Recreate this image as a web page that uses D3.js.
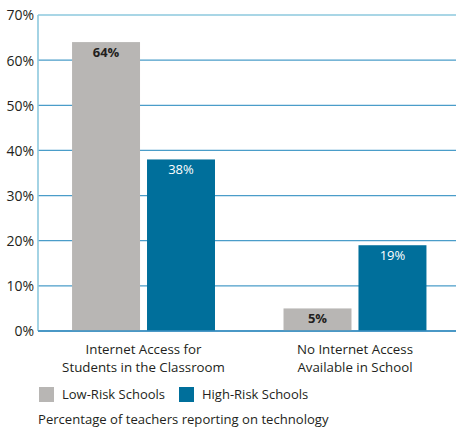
<!DOCTYPE html>
<html>
<head>
<meta charset="utf-8">
<script src="https://cdn.jsdelivr.net/npm/d3@7"></script>
<style>
  html, body { margin: 0; padding: 0; background: #fff; }
  svg { display: block; font-family: "Open Sans", "Noto Sans", sans-serif; }
</style>
</head>
<body>
<svg id="chart" width="456" height="430"></svg>
<script>
// Chart data
const categories = [
  ["Internet Access for", "Students in the Classroom"],
  ["No Internet Access", "Available in School"]
];
const seriesNames = ["Low-Risk Schools", "High-Risk Schools"];
const lowRisk = [64, 5];
const highRisk = [38, 19];
const yTicks = [0, 10, 20, 30, 40, 50, 60, 70];
const caption = "Percentage of teachers reporting on technology";

const colors = { "Low-Risk Schools": "#b8b6b4", "High-Risk Schools": "#006f9b" };
const labelStyle = {
  "Low-Risk Schools": { fill: "#231f20", weight: "bold" },
  "High-Risk Schools": { fill: "#ffffff", weight: "normal" }
};

const rows = categories.map((c, i) => ({
  key: i, label: c,
  values: [
    { series: seriesNames[0], value: lowRisk[i] },
    { series: seriesNames[1], value: highRisk[i] }
  ]
}));

const svg = d3.select("#chart");
const plotLeft = 38, plotRight = 456, plotTop = 15, plotBottom = 331;

const y = d3.scaleLinear().domain([0, 70]).range([plotBottom, plotTop]);
const x0 = d3.scaleBand().domain(rows.map(r => r.key))
  .range([plotLeft, 460.5]).paddingInner(0.324).paddingOuter(0.161);
const x1 = d3.scaleBand().domain(seriesNames)
  .range([0, x0.bandwidth()]).paddingInner(0.0933).paddingOuter(0);

// Horizontal gridlines
const grid = svg.append("g");
grid.selectAll("line").data(yTicks).join("line")
  .attr("x1", plotLeft).attr("x2", plotRight)
  .attr("y1", d => y(d)).attr("y2", d => y(d))
  .attr("stroke", d => d === 70 ? "#8dc8de" : "#4a9dc9")
  .attr("stroke-width", d => d === 70 ? 1.6 : 1.3);

// Y axis labels
const yAxis = svg.append("g").attr("transform", `translate(${plotLeft},0)`)
  .call(d3.axisLeft(y).tickValues(yTicks).tickSize(0).tickPadding(4).tickFormat(d => d + "%"));
yAxis.select(".domain").remove();
yAxis.selectAll("text").attr("font-size", 14).attr("fill", "#231f20")
  .attr("font-family", "'Open Sans', sans-serif").attr("dy", "0.35em");

// Bars
const groups = svg.append("g").selectAll("g").data(rows).join("g")
  .attr("transform", d => `translate(${x0(d.key)},0)`);
groups.selectAll("rect").data(d => d.values).join("rect")
  .attr("x", d => x1(d.series)).attr("width", x1.bandwidth())
  .attr("y", d => y(d.value)).attr("height", d => y(0) - y(d.value))
  .attr("fill", d => colors[d.series]);
groups.selectAll("text").data(d => d.values).join("text")
  .attr("x", d => x1(d.series) + x1.bandwidth() / 2)
  .attr("y", d => y(d.value) + 15)
  .attr("text-anchor", "middle")
  .attr("font-size", 13)
  .attr("fill", d => labelStyle[d.series].fill)
  .attr("font-weight", d => labelStyle[d.series].weight)
  .text(d => d.value + "%");

// Left axis line and baseline
svg.append("line").attr("x1", plotLeft).attr("x2", plotLeft)
  .attr("y1", plotTop).attr("y2", plotBottom)
  .attr("stroke", "#8dc8de").attr("stroke-width", 1.6);
svg.append("line").attr("x1", plotLeft).attr("x2", plotRight)
  .attr("y1", y(0)).attr("y2", y(0))
  .attr("stroke", "#3b8fc0").attr("stroke-width", 1.4);

// Category labels
const catLabels = svg.append("g").selectAll("text").data(rows).join("text")
  .attr("text-anchor", "middle").attr("font-size", 13.3).attr("fill", "#231f20")
  .attr("x", d => x0(d.key) + x0.bandwidth() / 2).attr("y", 354);
catLabels.selectAll("tspan").data(d => d.label).join("tspan")
  .attr("x", function () { return d3.select(this.parentNode).attr("x"); })
  .attr("dy", (d, i) => i === 0 ? 0 : 18)
  .text(d => d);

// Legend
const legendX = [39, 179];
const legend = svg.append("g").selectAll("g").data(seriesNames).join("g")
  .attr("transform", (d, i) => `translate(${legendX[i]},387)`);
legend.append("rect").attr("width", 15).attr("height", 15).attr("fill", d => colors[d]);
legend.append("text").attr("x", 23).attr("y", 12).attr("font-size", 13)
  .attr("fill", "#231f20").text(d => d);

// Caption
svg.append("text").attr("x", 38).attr("y", 424).attr("font-size", 13.1)
  .attr("fill", "#231f20").text(caption);
</script>
</body>
</html>
